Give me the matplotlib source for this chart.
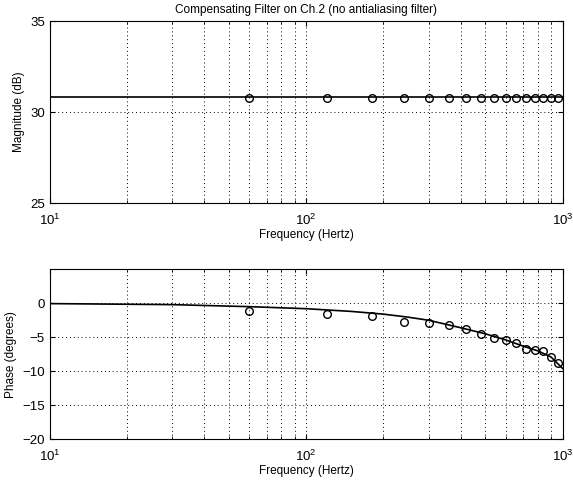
import numpy as np
import matplotlib.pyplot as plt
from matplotlib.ticker import LogLocator

plt.rcParams['font.family'] = ['Liberation Sans', 'DejaVu Sans']
plt.rcParams['font.size'] = 8.5
plt.rcParams['mathtext.fontset'] = 'custom'
plt.rcParams['mathtext.rm'] = 'Liberation Sans'

# measured points (circles)
freq_meas = [60, 120, 180, 240, 300, 360, 420, 480, 540, 600, 660, 720, 780, 840, 900, 960]
mag_meas = [30.8] * 16
phase_meas = [-1.1, -1.65, -1.9, -2.75, -2.85, -3.24, -3.8, -4.5, -5.1, -5.35,
              -5.8, -6.7, -6.9, -7.06, -7.9, -8.8]

# model curve (solid line)
freq_line = [10, 30, 60, 100, 150, 200, 250, 300, 400, 500, 600, 700, 800, 900, 1000]
mag_line = [30.85] * 15
phase_line = [-0.05, -0.2, -0.5, -0.8, -1.2, -1.6, -2.05, -2.5, -3.6, -4.5, -5.4,
              -6.3, -7.0, -7.9, -9.6]

fig = plt.figure(figsize=(5.73, 4.8), dpi=100)
ax1 = fig.add_axes([0.087, 0.577, 0.895, 0.379])
ax2 = fig.add_axes([0.087, 0.085, 0.895, 0.354])

for ax in (ax1, ax2):
    ax.set_xscale('log')
    ax.set_xlim(10, 1000)
    ax.xaxis.set_minor_locator(LogLocator(base=10, subs=np.arange(2, 10)))
    ax.grid(True, which='both', axis='x', linestyle=(0, (1, 3)), color='k', linewidth=0.7)
    ax.grid(True, which='major', axis='y', linestyle=(0, (1, 3)), color='k', linewidth=0.7)
    ax.tick_params(which='both', direction='in', top=True, right=True, labelsize=9.5)
    ax.tick_params(axis='x', pad=7)
    ax.set_xlabel('Frequency (Hertz)', labelpad=0.5)

ax1.plot(freq_line, mag_line, color='k', linewidth=1.2)
ax1.plot(freq_meas, mag_meas, 'o', mfc='none', mec='k', markersize=5.5)
ax1.set_ylim(25, 35)
ax1.set_yticks([25, 30, 35])
ax1.set_ylabel('Magnitude (dB)')
ax1.set_title('Compensating Filter on Ch.2 (no antialiasing filter)', fontsize=8.5)

ax2.plot(freq_line, phase_line, color='k', linewidth=1.2)
ax2.plot(freq_meas, phase_meas, 'o', mfc='none', mec='k', markersize=5.5)
ax2.set_ylim(-20, 5)
ax2.set_yticks([-20, -15, -10, -5, 0])
ax2.set_ylabel('Phase (degrees)')

fig.savefig('out.png', dpi=100)
